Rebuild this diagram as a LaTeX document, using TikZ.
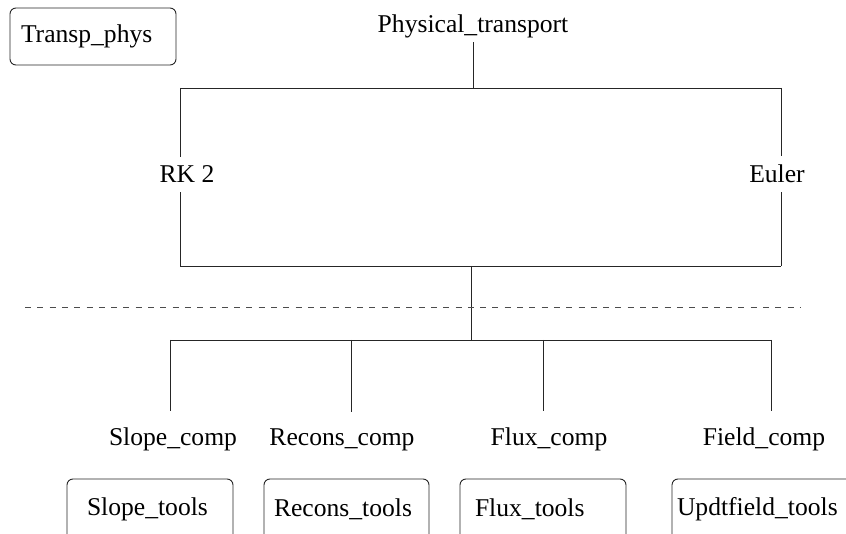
\documentclass[tikz,border=0pt]{standalone}
\usepackage{fontspec}
\setmainfont{Liberation Serif}
\begin{document}
\begin{tikzpicture}[x=1pt,y=-1pt,
  every node/.style={font=\fontsize{25.6}{30}\selectfont},
  wire/.style={line width=0.9pt,black!85},
  sep/.style={line width=0.9pt,black!70,dash pattern=on 6pt off 6.3pt},
  lbl/.style={anchor=base,inner sep=3.5pt},
  midlbl/.style={anchor=base,inner xsep=3pt,inner ysep=9pt},
  complbl/.style={anchor=base,inner xsep=3pt,inner ysep=16pt},
  toolbox/.style={draw,line width=0.9pt,black!85,text=black,rounded corners=6pt,
    align=left,minimum height=61pt,inner ysep=0pt}
]
\useasboundingbox (0,0) rectangle (846,534);
\clip (0,0) rectangle (846,534);

% title box
\node[toolbox,text width=144pt,inner xsep=11pt,minimum height=57pt] (tp) at (93,36.5) {Transp\_phys};

% top label
\node[lbl] (pt) at (473,33) {Physical\_transport};

% frame corners
\coordinate (tl) at (180,88);
\coordinate (tr) at (781,88);
\coordinate (bl) at (180,266);
\coordinate (br) at (781,266);
\coordinate (bm) at (471,266);
\coordinate (hub) at (471,340);

\node[midlbl] (rk) at (187,183) {RK 2};
\node[midlbl] (eu) at (777,183) {Euler};

\draw[wire] (pt.south) -- (pt.south |- tl);
\draw[wire] (tl) -- (tr);
\draw[wire] (tl) -- (tl |- rk.north);
\draw[wire] (tl |- rk.south) -- (bl);
\draw[wire] (tr) -- (tr |- eu.north);
\draw[wire] (tr |- eu.south) -- (br);
\draw[wire] (bl) -- (br);
\draw[wire] (bm) -- (hub);

% separator
\coordinate (dsl) at (25,307);
\coordinate (dsr) at (801,307);
\draw[sep] (dsl) -- (dsr);

% branch bar
\coordinate (b1) at (170,340);
\coordinate (b2) at (351,340);
\coordinate (b3) at (543,340);
\coordinate (b4) at (771,340);
\draw[wire] (b1) -- (b4);

\node[complbl] (sc) at (173,445) {Slope\_comp};
\node[complbl] (rc) at (342,445) {Recons\_comp};
\node[complbl] (fc) at (549,445) {Flux\_comp};
\node[complbl] (dc) at (764,445) {Field\_comp};

\draw[wire] (b1) -- (b1 |- sc.north);
\draw[wire] (b2) -- (b2 |- rc.north);
\draw[wire] (b3) -- (b3 |- fc.north);
\draw[wire] (b4) -- (b4 |- dc.north);

% tool boxes
\node[toolbox,text width=126pt,inner xsep=20pt] (st) at (150,509.5) {Slope\_tools};
\node[toolbox,text width=145pt,inner xsep=10pt] (rt) at (346.5,509.5) {Recons\_tools};
\node[toolbox,text width=136pt,inner xsep=15pt] (ft) at (543,509.5) {Flux\_tools};
\node[toolbox,text width=218pt,inner xsep=5pt] (ut) at (786,509.5) {Updtfield\_tools};
\end{tikzpicture}
\end{document}
